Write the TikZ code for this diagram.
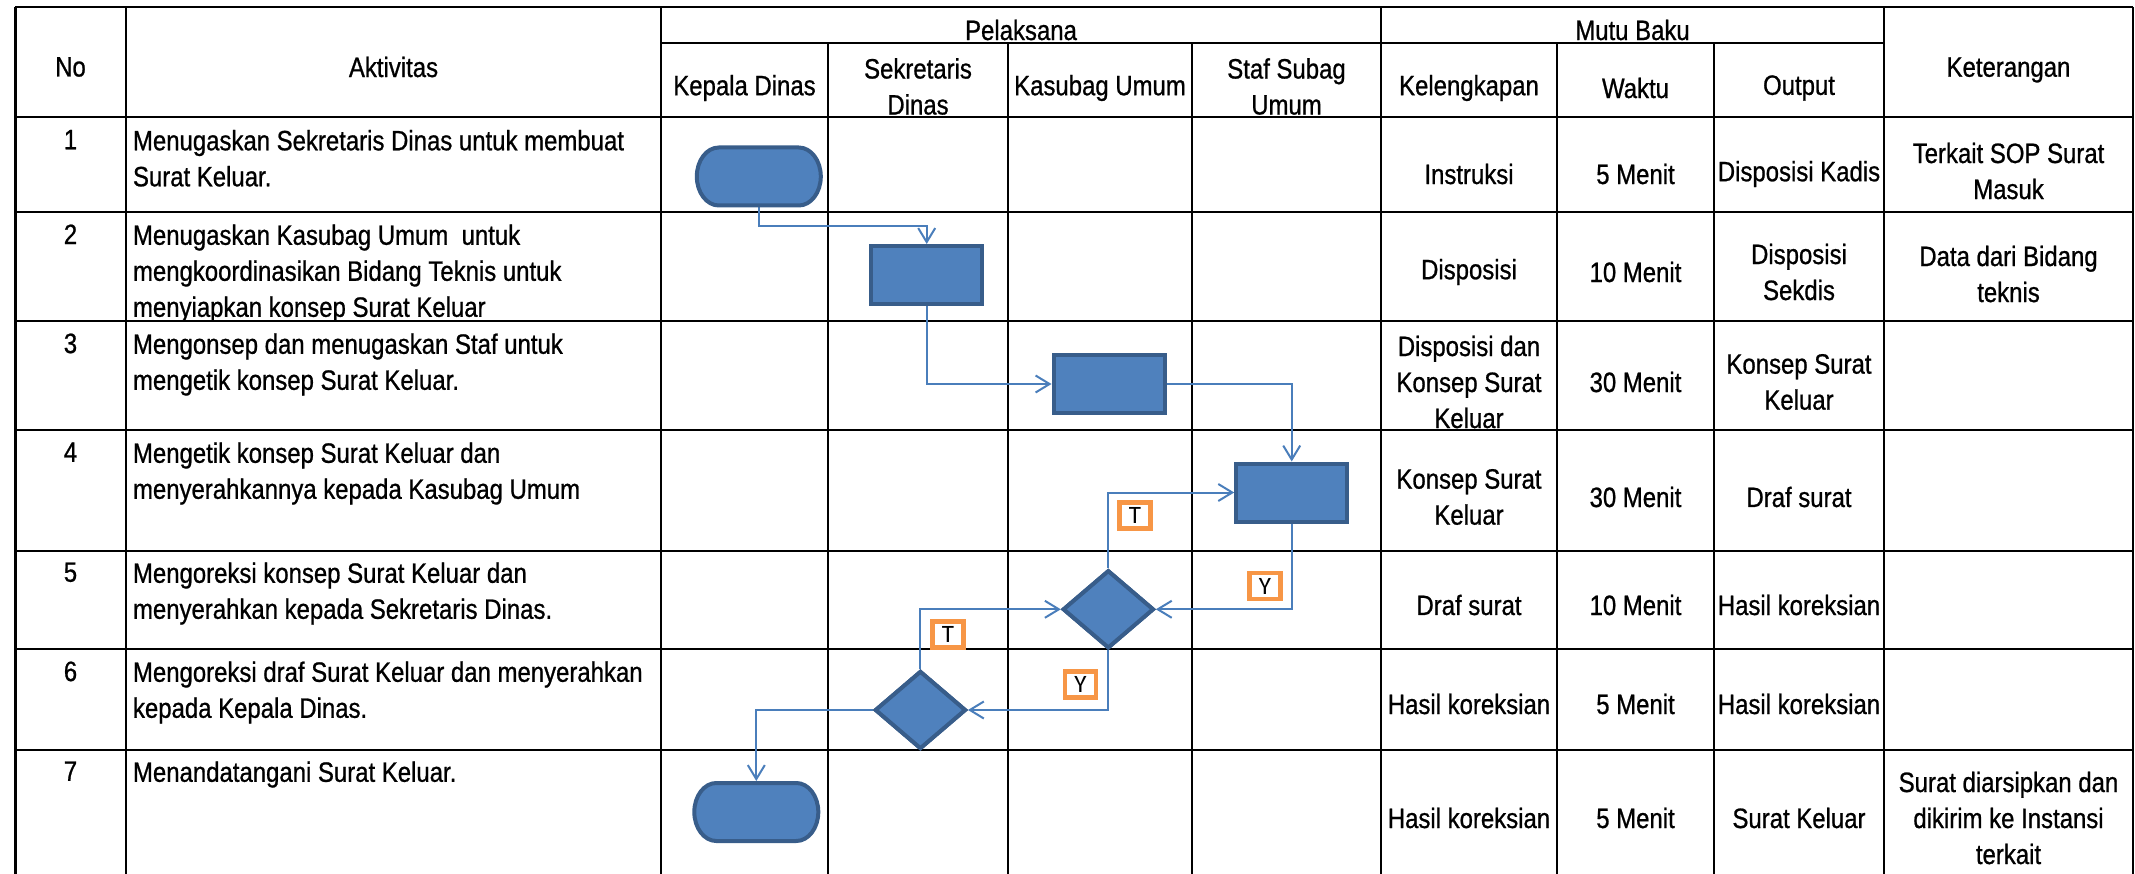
\documentclass[tikz,border=0pt]{standalone}
\usepackage{fontspec}
\setmainfont{Liberation Sans}[FakeStretch=0.855,FakeBold=0.8]
\newfontfamily\lblfont{Carlito}
\usetikzlibrary{arrows.meta,shapes.geometric,calc}
\definecolor{shapefill}{HTML}{4F81BD}
\definecolor{shapeline}{HTML}{385D8A}
\definecolor{connline}{HTML}{4A7EBB}
\definecolor{lblline}{HTML}{F79646}
\begin{document}
\begin{tikzpicture}[x=1pt,y=-1pt,
  every node/.style={inner sep=0pt, outer sep=0pt},
  txt/.style={font=\fontsize{28}{36}\selectfont, align=center},
  ltxt/.style={font=\fontsize{28}{36}\selectfont, align=left, anchor=north west},
  ntxt/.style={font=\fontsize{28}{36}\selectfont, anchor=north},
  hline/.style={line width=2.8pt},
  vline/.style={line width=1.9pt},
  procbox/.style={draw=shapeline, fill=shapefill, line width=4pt, minimum width=111pt, minimum height=58pt, outer sep=2pt},
  decbox/.style={diamond, draw=shapeline, fill=shapefill, line width=4pt, minimum width=91pt, minimum height=78pt, outer sep=2pt},
  termbox/.style={minimum width=124pt, minimum height=58pt, outer sep=2pt},
  termdraw/.style={draw=shapeline, fill=shapefill, line width=4pt},
  conn/.style={draw=connline, line width=2pt, -{Straight Barb[length=14pt,width=17pt]}},
  lbl/.style={draw=lblline, fill=white, line width=4.5pt, minimum width=31pt, minimum height=26pt, font=\lblfont\fontsize{25}{25}\selectfont}
]
\useasboundingbox (0,0) rectangle (2135,874);

% grid
\draw[hline] (15,7) -- (2133,7);
\draw[hline] (661,43) -- (1884,43);
\foreach \yy in {117,212,321,430,551,649,750}
  \draw[hline] (15,\yy) -- (2133,\yy);
\draw[line width=3pt] (15,7) -- (15,874);
\draw[line width=2.4pt] (126,7) -- (126,874);
\foreach \xx in {661,1381,1884,2133}
  \draw[vline] (\xx,7) -- (\xx,874);
\foreach \xx in {828,1008,1192,1557,1714}
  \draw[vline] (\xx,43) -- (\xx,874);

% header
\node[txt] (hno) at (70.5,67) {No};
\node[txt] (hakt) at (393.5,67) {Aktivitas};
\node[txt] (hpel) at (1021,30) {Pelaksana};
\node[txt] (hmutu) at (1632.5,30) {Mutu Baku};
\node[txt] (hket) at (2008.5,70) {Keterangan};
\node[txt] (hkd) at (744.5,88) {Kepala Dinas};
\node[txt] (hsd) at (918,86.5) {Sekretaris\\Dinas};
\node[txt] (hku) at (1100,88) {Kasubag Umum};
\node[txt] (hss) at (1286.5,86.5) {Staf Subag\\Umum};
\node[txt] (hkel) at (1469,88) {Kelengkapan};
\node[txt] (hwak) at (1635.5,88) {Waktu};
\node[txt] (hout) at (1799,88) {Output};

% numbers
\node[ntxt] (r1n) at (70.5,130) {1};
\node[ntxt] (r2n) at (70.5,224.5) {2};
\node[ntxt] (r3n) at (70.5,333.5) {3};
\node[ntxt] (r4n) at (70.5,442.5) {4};
\node[ntxt] (r5n) at (70.5,562.5) {5};
\node[ntxt] (r6n) at (70.5,661.5) {6};
\node[ntxt] (r7n) at (70.5,761.5) {7};

% activities
\node[ltxt] (r1a) at (133,130) {Menugaskan Sekretaris Dinas untuk membuat\\Surat Keluar.};
\begin{scope}
\clip (126,212) rectangle (661,320);
\node[ltxt] (r2a) at (133,224.5) {Menugaskan Kasubag Umum\ \ untuk\\mengkoordinasikan Bidang Teknis untuk\\menyiapkan konsep Surat Keluar};
\end{scope}
\node[ltxt] (r3a) at (133,333.5) {Mengonsep dan menugaskan Staf untuk\\mengetik konsep Surat Keluar.};
\node[ltxt] (r4a) at (133,442.5) {Mengetik konsep Surat Keluar dan\\menyerahkannya kepada Kasubag Umum};
\node[ltxt] (r5a) at (133,562.5) {Mengoreksi konsep Surat Keluar dan\\menyerahkan kepada Sekretaris Dinas.};
\node[ltxt] (r6a) at (133,661.5) {Mengoreksi draf Surat Keluar dan menyerahkan\\kepada Kepala Dinas.};
\node[ltxt] (r7a) at (133,761.5) {Menandatangani Surat Keluar.};

% Mutu baku & keterangan
\node[txt] (r1k) at (1469,174) {Instruksi};
\node[txt] (r1w) at (1635.5,174) {5 Menit};
\node[txt] (r1o) at (1799,174) {Disposisi Kadis};
\node[txt] (r1t) at (2008.5,171) {Terkait SOP Surat\\Masuk};

\node[txt] (r2k) at (1469,272) {Disposisi};
\node[txt] (r2w) at (1635.5,272) {10 Menit};
\node[txt] (r2o) at (1799,272) {Disposisi\\Sekdis};
\node[txt] (r2t) at (2008.5,274) {Data dari Bidang\\teknis};

\node[txt] (r3k) at (1469,382) {Disposisi dan\\Konsep Surat\\Keluar};
\node[txt] (r3w) at (1635.5,382) {30 Menit};
\node[txt] (r3o) at (1799,382) {Konsep Surat\\Keluar};

\node[txt] (r4k) at (1469,497) {Konsep Surat\\Keluar};
\node[txt] (r4w) at (1635.5,497) {30 Menit};
\node[txt] (r4o) at (1799,497) {Draf surat};

\node[txt] (r5k) at (1469,605) {Draf surat};
\node[txt] (r5w) at (1635.5,605) {10 Menit};
\node[txt] (r5o) at (1799,605) {Hasil koreksian};

\node[txt] (r6k) at (1469,704) {Hasil koreksian};
\node[txt] (r6w) at (1635.5,704) {5 Menit};
\node[txt] (r6o) at (1799,704) {Hasil koreksian};

\node[txt] (r7k) at (1469,818) {Hasil koreksian};
\node[txt] (r7w) at (1635.5,818) {5 Menit};
\node[txt] (r7o) at (1799,818) {Surat Keluar};
\node[txt] (r7t) at (2008.5,818) {Surat diarsipkan dan\\dikirim ke Instansi\\terkait};

% flow shapes (positions)
\node[termbox] (t1) at (758.8,176.5) {};
\node[procbox] (p2) at (926.7,275) {};
\node[procbox] (p3) at (1109,384) {};
\node[procbox] (p4) at (1291.7,492.5) {};
\node[decbox] (d5) at (1108.3,609.3) {};
\node[decbox] (d6) at (920.4,710) {};
\node[termbox] (t7) at (756.3,812) {};

% connectors
\draw[conn] (t1.south) -- ++(0,18.5) -| (p2.north);
\draw[conn] (p2.south) |- (p3.west);
\draw[conn] (p3.east) -| (p4.north);
\draw[conn] (p4.south) |- (d5.east);
\draw[conn] (d5.north) |- (p4.west);
\draw[conn] (d5.south) |- (d6.east);
\draw[conn] (d6.north) |- (d5.west);
\draw[conn] (d6.west) -| (t7.north);

% shapes drawn on top
\foreach \tn in {t1,t7}{
  \draw[termdraw] ($(\tn.north west)+(24,2)$) -- ($(\tn.north east)+(-24,2)$)
     arc[start angle=90,end angle=-90,x radius=22pt,y radius=29pt]
     -- ($(\tn.south west)+(24,-2)$)
     arc[start angle=270,end angle=90,x radius=22pt,y radius=29pt] -- cycle;
}
\node[procbox] at (p2) {};
\node[procbox] at (p3) {};
\node[procbox] at (p4) {};
\node[decbox] at (d5) {};
\node[decbox] at (d6) {};

% labels
\node[lbl] (ly1) at (1265,586) {Y};
\node[lbl] (lt1) at (1135,515.5) {T};
\node[lbl] (ly2) at (1080.4,684.5) {Y};
\node[lbl] (lt2) at (948,634.7) {T};
\end{tikzpicture}
\end{document}
